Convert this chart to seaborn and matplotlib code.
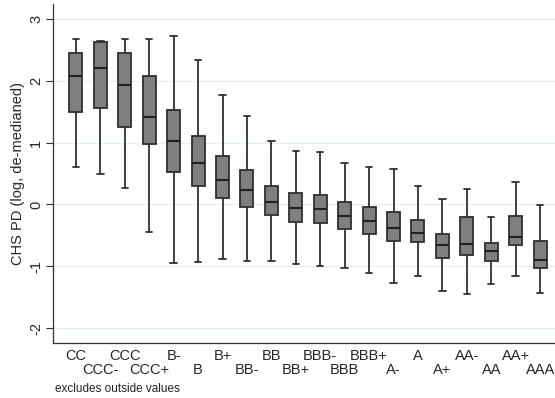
import numpy as np
import pandas as pd
import seaborn as sns
import matplotlib
matplotlib.use("Agg")
import matplotlib.pyplot as plt

ratings = ["CC", "CCC-", "CCC", "CCC+", "B-", "B", "B+", "BB-", "BB", "BB+",
           "BBB-", "BBB", "BBB+", "A-", "A", "A+", "AA-", "AA", "AA+", "AAA"]
whisk_lo = [0.61, 0.49, 0.26, -0.44, -0.95, -0.93, -0.89, -0.91, -0.91, -0.96,
            -0.99, -1.02, -1.11, -1.27, -1.15, -1.40, -1.45, -1.29, -1.15, -1.43]
q1 = [1.49, 1.56, 1.25, 0.97, 0.53, 0.29, 0.11, -0.04, -0.17, -0.28,
      -0.30, -0.39, -0.47, -0.59, -0.61, -0.86, -0.81, -0.91, -0.65, -1.03]
median = [2.07, 2.21, 1.93, 1.41, 1.03, 0.67, 0.39, 0.23, 0.04, -0.05,
          -0.08, -0.18, -0.27, -0.38, -0.46, -0.66, -0.64, -0.75, -0.52, -0.90]
q3 = [2.44, 2.62, 2.44, 2.07, 1.53, 1.11, 0.78, 0.55, 0.30, 0.18,
      0.16, 0.04, -0.04, -0.13, -0.25, -0.48, -0.21, -0.62, -0.18, -0.59]
whisk_hi = [2.68, 2.64, 2.68, 2.68, 2.72, 2.33, 1.77, 1.43, 1.03, 0.86,
            0.84, 0.67, 0.61, 0.57, 0.30, 0.08, 0.25, -0.20, 0.37, -0.01]

# five points per rating reproduce exactly min/q1/median/q3/max
rows = []
for r, a, b, c, d, e in zip(ratings, whisk_lo, q1, median, q3, whisk_hi):
    for v in (a, b, c, d, e):
        rows.append({"rating": r, "pd": v})
df = pd.DataFrame(rows)

sns.set_style("white")
plt.rcParams["font.family"] = ["Liberation Sans", "DejaVu Sans"]

fig = plt.figure(figsize=(5.55, 3.98), dpi=100)
ax = fig.add_axes([0.0955, 0.1374, 0.9045, 0.8526])

sns.boxplot(data=df, x="rating", y="pd", order=ratings, whis=(0, 100),
            color="#7f7f7f", saturation=1, linecolor="#303030", linewidth=1.3,
            width=0.53, showfliers=False, ax=ax,
            medianprops={"color": "#202020", "linewidth": 1.5})

ax.set_xlim(-0.94, 19.61)
ax.set_ylim(-2.245, 3.24)
ax.set_yticks([-2, -1, 0, 1, 2, 3])
ax.set_yticklabels(["-2", "-1", "0", "1", "2", "3"], rotation=90, va="center",
                   fontsize=10.5)
ax.yaxis.grid(True, color="#e6eff0", linewidth=0.9)
ax.set_axisbelow(True)

even = list(range(0, len(ratings), 2))
odd = list(range(1, len(ratings), 2))
ax.set_xticks(even)
ax.set_xticklabels([ratings[i] for i in even], fontsize=10.5)
ax.set_xticks(odd, minor=True)
ax.set_xticklabels([ratings[i] for i in odd], minor=True, fontsize=10.5)
ax.tick_params(axis="x", which="major", length=0, pad=4)
ax.tick_params(axis="x", which="minor", length=0, pad=14)
ax.tick_params(axis="y", length=5, width=0.8, color="#303030", pad=2, left=True)
ax.set_xlabel("")
ax.set_ylabel("CHS PD (log, de-medianed)", fontsize=10.5, labelpad=3)
for s in ["top", "right"]:
    ax.spines[s].set_visible(False)
for s in ["left", "bottom"]:
    ax.spines[s].set_color("#303030")
    ax.spines[s].set_linewidth(0.9)

fig.text(0.099, 0.023, "excludes outside values", fontsize=8.5, ha="left",
         va="center", color="#222222")

fig.savefig("out.png", dpi=100)
